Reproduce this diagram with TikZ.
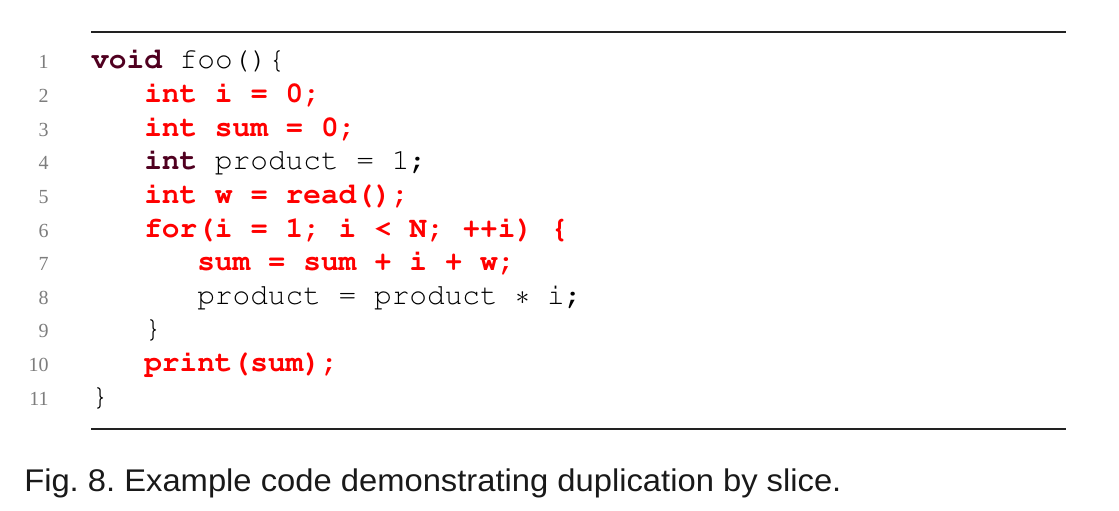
\documentclass[tikz,border=0pt]{standalone}
\usepackage[T1]{fontenc}
\usepackage{fontspec}
\setmainfont{Liberation Serif}
\newcommand{\codefont}{\fontencoding{T1}\fontfamily{pcr}\selectfont}
\newfontfamily\capfont[FakeStretch=1.045]{Liberation Sans}

\definecolor{keyword}{RGB}{80,0,32}
\definecolor{slicered}{RGB}{255,0,0}
\definecolor{numgray}{RGB}{125,125,125}
\definecolor{rulegray}{RGB}{34,34,34}

\newcommand{\keyw}[1]{\textbf{\textcolor{keyword}{#1}}}
\newcommand{\slice}[1]{\textbf{\textcolor{slicered}{#1}}}

\begin{document}
\begin{tikzpicture}[x=0.75pt,y=-0.75pt,
                    code/.style={anchor=base west,inner sep=0pt,
                      font=\codefont\fontsize{22.1}{26}\selectfont},
                    lineno/.style={anchor=base east,inner sep=0pt,text=numgray,
                      font=\fontsize{15}{18}\selectfont},
                    hrule/.style={draw=rulegray,line width=1.5pt}]
  \useasboundingbox (0,0) rectangle (1119,510);
  % rules above and below the listing
  \coordinate (top west) at (91,32);
  \coordinate (top east) at (1066,32);
  \coordinate (bottom west) at (91,428.5);
  \coordinate (bottom east) at (1066,428.5);
  \draw[hrule] (top west) -- (top east);
  \draw[hrule] (bottom west) -- (bottom east);
  % line numbers
  \foreach \i in {1,...,11}
    \node[lineno] (n\i) at (49,{69+(\i-1)*33.6}) {\i};
  % code
  \node[code] (l1) at (91,69) {\keyw{void} foo()\{};
  \node[code] (l2) at (144,102.6) {\slice{int i = 0;}};
  \node[code] (l3) at (144,136.2) {\slice{int sum = 0;}};
  \node[code] (l4) at (144,169.8) {\keyw{int} product = 1;};
  \node[code] (l5) at (144,203.4) {\slice{int w = read();}};
  \node[code] (l6) at (144,237) {\slice{for(i = 1; i < N; ++i) \{}};
  \node[code] (l7) at (197,270.6) {\slice{sum = sum + i + w;}};
  \node[code] (l8) at (197,304.2) {product = product $\ast$ i;};
  \node[code] (l9) at (144,337.8) {\}};
  \node[code] (l10) at (144,371.4) {\slice{print(sum);}};
  \node[code] (l11) at (91,405) {\}};
  % caption
  \node[anchor=base west,inner sep=0pt,
        font=\capfont\frenchspacing\fontsize{23.5}{28}\selectfont,
        text=black!90] (caption) at (24,491)
    {Fig. 8. Example code demonstrating duplication by slice.};
\end{tikzpicture}
\end{document}
